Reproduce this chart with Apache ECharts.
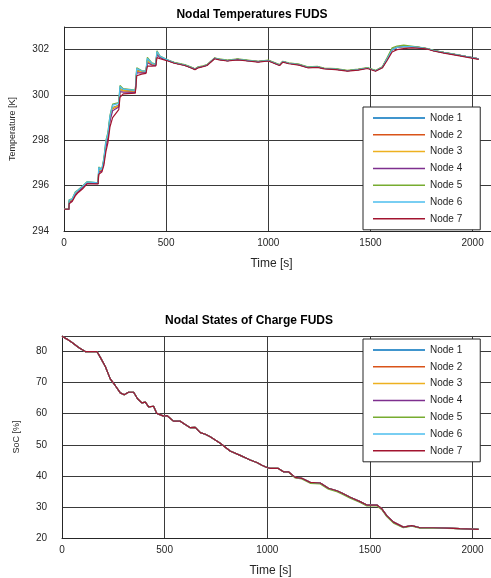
<!DOCTYPE html>
<html>
<head>
<meta charset="utf-8">
<script src="https://cdn.jsdelivr.net/npm/echarts@6.0.0/dist/echarts.min.js"></script>
<style>
  html, body { margin: 0; padding: 0; background: #fff; }
  #chart { width: 491px; height: 578px; }
</style>
</head>
<body>
<div id="chart"></div>
<script>
// ---- data ----
const nodeNames = ['Node 1', 'Node 2', 'Node 3', 'Node 4', 'Node 5', 'Node 6', 'Node 7'];

// temperatures [K]
const tempTime = [0, 24, 25, 40, 55, 70, 90, 113, 167, 170, 185, 195, 205, 215, 225, 238, 268, 274, 290, 349,
  356, 380, 401, 408, 430, 449, 455, 470, 503, 540, 591, 620, 641, 657, 680, 700, 737, 760, 800, 850,
  900, 950, 1000, 1055, 1071, 1100, 1150, 1193, 1240, 1274, 1330, 1387, 1440, 1485, 1525, 1558, 1580, 1606, 1630, 1663,
  1700, 1744, 1780, 1809, 1860, 1923, 1970, 2030];

const tempN7 = [294.96, 294.96, 295.2, 295.3, 295.55, 295.7, 295.85, 296.08, 296.08, 296.5, 296.6, 296.9, 297.5, 297.9, 298.6, 299.0, 299.35, 299.9, 300.05, 300.08,
  300.85, 300.92, 300.95, 301.27, 301.27, 301.28, 301.65, 301.6, 301.52, 301.4, 301.3, 301.2, 301.12, 301.2, 301.25, 301.3, 301.6, 301.55, 301.5, 301.55,
  301.5, 301.45, 301.5, 301.3, 301.45, 301.38, 301.32, 301.2, 301.22, 301.15, 301.12, 301.05, 301.1, 301.17, 301.05, 301.2, 301.5, 301.9, 302.0, 302.05,
  302.08, 302.06, 302.02, 301.94, 301.85, 301.75, 301.67, 301.57];

const tempN5 = [294.96, 294.96, 295.38, 295.42, 295.72, 295.82, 295.98, 296.18, 296.12, 296.82, 296.72, 297.2, 298.0, 298.35, 299.1, 299.6, 299.66, 300.42, 300.28, 300.22,
  301.2, 301.08, 301.05, 301.66, 301.42, 301.36, 301.95, 301.72, 301.56, 301.44, 301.34, 301.24, 301.16, 301.24, 301.29, 301.34, 301.64, 301.59, 301.54, 301.59,
  301.54, 301.49, 301.54, 301.34, 301.49, 301.42, 301.36, 301.24, 301.26, 301.19, 301.16, 301.09, 301.14, 301.21, 301.09, 301.24, 301.62, 302.08, 302.16, 302.2,
  302.16, 302.1, 302.05, 301.97, 301.88, 301.78, 301.7, 301.6];

// first part (t <= 503) of the other nodes
const tempN1Rise = [294.96, 294.96, 295.3, 295.36, 295.65, 295.77, 295.93, 296.14, 296.1, 296.7, 296.68, 297.1, 297.85, 298.2, 299.0, 299.45, 299.55, 300.3, 300.2, 300.17,
  301.1, 301.03, 301.02, 301.55, 301.37, 301.33, 301.87, 301.68, 301.55];
const tempN2Rise = [294.96, 294.96, 295.28, 295.35, 295.63, 295.76, 295.92, 296.13, 296.1, 296.66, 296.67, 297.05, 297.8, 298.15, 298.95, 299.4, 299.52, 300.25, 300.18, 300.15,
  301.05, 301.01, 301.0, 301.5, 301.35, 301.32, 301.83, 301.67, 301.54];
const tempN3Rise = [294.96, 294.96, 295.3, 295.36, 295.64, 295.76, 295.92, 296.13, 296.1, 296.68, 296.67, 297.08, 297.82, 298.18, 298.98, 299.42, 299.53, 300.28, 300.19, 300.16,
  301.08, 301.02, 301.01, 301.52, 301.36, 301.32, 301.85, 301.67, 301.55];
const tempN4Rise = [294.96, 294.96, 295.25, 295.33, 295.6, 295.74, 295.9, 296.11, 296.09, 296.6, 296.64, 297.0, 297.7, 298.05, 298.85, 299.3, 299.47, 300.15, 300.13, 300.12,
  300.98, 300.98, 300.98, 301.42, 301.32, 301.3, 301.78, 301.65, 301.54];
const tempN6Rise = [294.96, 294.96, 295.36, 295.41, 295.7, 295.81, 295.97, 296.17, 296.12, 296.8, 296.71, 297.17, 297.95, 298.3, 299.07, 299.55, 299.63, 300.38, 300.26, 300.2,
  301.17, 301.07, 301.04, 301.62, 301.4, 301.35, 301.92, 301.71, 301.56];
// rest (t > 503), nodes 1-4 and 6 run together
const tempMidLate = [301.42, 301.32, 301.22, 301.14, 301.22, 301.27, 301.32, 301.62, 301.57, 301.52, 301.57, 301.52, 301.47, 301.52, 301.32, 301.47, 301.40, 301.34, 301.22, 301.24,
  301.17, 301.14, 301.07, 301.12, 301.19, 301.07, 301.22,
  301.57, 302.0, 302.1, 302.14, 302.13, 302.09, 302.04, 301.96, 301.87, 301.77, 301.69, 301.59];

// states of charge [%]
const socTime = [0, 24, 49, 81, 113, 170, 186, 211, 235, 260, 284, 303, 324, 349, 368, 389, 406, 422, 446, 462,
  495, 511, 543, 576, 600, 625, 649, 674, 698, 722, 771, 819, 868, 917, 949, 974, 998, 1014, 1054, 1079,
  1103, 1136, 1168, 1209, 1258, 1298, 1339, 1363, 1404, 1452, 1485, 1534, 1558, 1582, 1615, 1663, 1704, 1744, 1809, 1874,
  1939, 2030];
const socAll = [84.9, 84.0, 82.9, 81.3, 80.0, 80.0, 78.2, 75.2, 71.2, 69.0, 66.7, 66.1, 66.9, 66.9, 64.8, 63.5, 63.7, 62.2, 62.4, 60.1,
  59.2, 59.4, 57.6, 57.6, 56.5, 55.5, 55.6, 53.9, 53.4, 52.6, 50.5, 48.0, 46.6, 45.1, 44.3, 43.4, 42.7, 42.4, 42.4, 41.3,
  41.3, 39.5, 39.2, 37.9, 37.7, 36.0, 35.2, 34.5, 33.1, 31.7, 30.6, 30.6, 29.4, 27.2, 25.1, 23.5, 24.0, 23.3, 23.3, 23.2,
  23.0, 22.8];
const socN5 = [84.9, 84.0, 82.9, 81.3, 80.0, 80.0, 78.2, 75.2, 71.2, 69.0, 66.7, 66.1, 66.9, 66.9, 64.8, 63.5, 63.7, 62.2, 62.4, 60.1,
  59.2, 59.4, 57.6, 57.6, 56.5, 55.5, 55.6, 53.9, 53.4, 52.6, 50.5, 48.0, 46.6, 45.1, 44.3, 43.4, 42.7, 42.4, 42.4, 41.3,
  41.2, 39.3, 39.0, 37.6, 37.4, 35.7, 34.9, 34.2, 32.8, 31.4, 30.3, 30.3, 29.1, 26.9, 24.8, 23.3, 23.8, 23.2, 23.2, 23.1,
  23.0, 22.8];

const tempNodes = [
  tempN1Rise.concat(tempMidLate),
  tempN2Rise.concat(tempMidLate),
  tempN3Rise.concat(tempMidLate),
  tempN4Rise.concat(tempMidLate),
  tempN5,
  tempN6Rise.concat(tempMidLate),
  tempN7
];
const socNodes = [socAll, socAll, socAll, socAll, socN5, socAll, socAll];

// ---- styling ----
const nodeColors = ['#0072BD', '#D95319', '#EDB120', '#7E2F8E', '#77AC30', '#4DBEEE', '#A2142F'];
const FONT = '"Liberation Sans", Arial, Helvetica, sans-serif';
const INK = '#262626';

function pairs(t, v) {
  return t.map((x, i) => [x, v[i]]);
}

function xAxisCfg(gridIndex) {
  return {
    type: 'value', gridIndex: gridIndex,
    min: 0, max: 2090, interval: 500,
    name: 'Time [s]', nameLocation: 'middle', nameGap: 27,
    nameTextStyle: { color: INK, fontSize: 12, fontFamily: FONT, padding: [0, 12, 0, 0] },
    axisLine: { show: true, onZero: false, lineStyle: { color: INK, width: 1 } },
    axisTick: { show: false },
    axisLabel: { color: INK, fontSize: 10, fontFamily: FONT, margin: 7, showMaxLabel: false,
      formatter: (v) => String(v) },
    splitLine: { show: true, lineStyle: { color: '#3a3a3a', width: 1 } }
  };
}

function yAxisCfg(gridIndex, min, max, interval, name, gap, size) {
  return {
    type: 'value', gridIndex: gridIndex,
    min: min, max: max, interval: interval,
    name: name, nameLocation: 'middle', nameGap: gap,
    nameTextStyle: { color: INK, fontSize: size, fontFamily: FONT },
    axisLine: { show: true, onZero: false, lineStyle: { color: INK, width: 1 } },
    axisTick: { show: false },
    axisLabel: { color: INK, fontSize: 10, fontFamily: FONT, margin: 15, showMaxLabel: false,
      formatter: (v) => String(v) },
    splitLine: { show: true, lineStyle: { color: '#3a3a3a', width: 1 } }
  };
}

function legendCfg(top) {
  return {
    orient: 'vertical', left: 363, top: top,
    data: nodeNames.map((n) => ({ name: n, icon: 'rect' })),
    itemWidth: 52, itemHeight: 1.5, itemGap: 2.8,
    padding: [4, 18, 4, 10],
    backgroundColor: '#fff', borderColor: INK, borderWidth: 1, borderRadius: 0,
    textStyle: { color: INK, fontSize: 10, fontFamily: FONT, lineHeight: 14 },
    selectedMode: false
  };
}

const series = [];
nodeNames.forEach((name, i) => {
  series.push({
    name: name, type: 'line', xAxisIndex: 0, yAxisIndex: 0,
    data: pairs(tempTime, tempNodes[i]),
    symbol: 'none', lineStyle: { width: 1.2, color: nodeColors[i] }, itemStyle: { color: nodeColors[i] }
  });
});
nodeNames.forEach((name, i) => {
  series.push({
    name: name, type: 'line', xAxisIndex: 1, yAxisIndex: 1,
    data: pairs(socTime, socNodes[i]),
    symbol: 'none', lineStyle: { width: 1.2, color: nodeColors[i] }, itemStyle: { color: nodeColors[i] }
  });
});

const chart = echarts.init(document.getElementById('chart'));
chart.setOption({
  animation: false,
  backgroundColor: '#fff',
  textStyle: { fontFamily: FONT },
  title: [
    { text: 'Nodal Temperatures FUDS', left: 252, top: 9, textAlign: 'center', padding: 0,
      textStyle: { color: '#000', fontSize: 12, fontWeight: 'bold', fontFamily: FONT } },
    { text: 'Nodal States of Charge FUDS', left: 249, top: 315, textAlign: 'center', padding: 0,
      textStyle: { color: '#000', fontSize: 12, fontWeight: 'bold', fontFamily: FONT } }
  ],
  legend: [legendCfg(107), legendCfg(339)],
  grid: [
    { left: 62, right: 0, top: 27, height: 204 },
    { left: 62, right: 0, top: 336, height: 203 }
  ],
  xAxis: [xAxisCfg(0), xAxisCfg(1)],
  yAxis: [
    yAxisCfg(0, 294, 303, 2, 'Temperature [K]', 47, 9),
    yAxisCfg(1, 20, 85, 10, 'SoC [%]', 41, 9)
  ],
  series: series
});
</script>
</body>
</html>
